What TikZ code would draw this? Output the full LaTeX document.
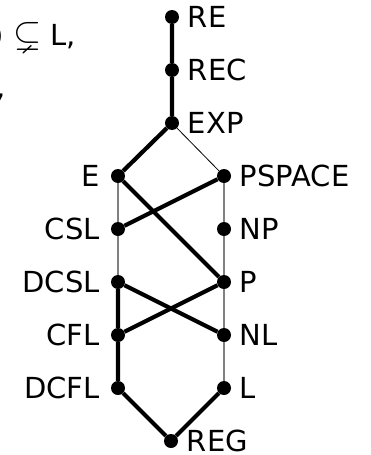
\documentclass[tikz,border=0pt]{standalone}
\usepackage{amssymb}
\usepackage{graphicx}
\usepackage{fontspec}
\setmainfont{DejaVu Sans}
\begin{document}
\begin{tikzpicture}[x = 1pt, y = -1pt,
		dot/.style = {circle, fill, inner sep = 0pt, minimum size = 14pt},
		strong/.style = {line width = 4.2pt},
		weak/.style = {gray, line width = 1.5pt},
		faint/.style = {line width = 0.8pt},
		every label/.style = {font = \fontsize{29}{34}\selectfont, inner sep = 0pt, label distance = 8.5pt},
		leftlab/.style = {label = {[label distance = 11pt]left:#1}}]
		\useasboundingbox (0,0) rectangle (370,455);
		% cut off text at the top left
		\node [anchor = base east, inner sep = 0pt, font = \fontsize{29}{34}\selectfont] (txtone) at (76,45) {)\ \scalebox{1.25}{$\subsetneq$}\ L,};
		\node [anchor = base east, inner sep = 0pt, font = \fontsize{29}{34}\selectfont] (txttwo) at (6,97) {,};
		% classes
		\node [dot, label = right:RE] (re) at (172,17) {};
		\node [dot, label = right:REC] (rec) at (172,70) {};
		\node [dot, label = right:EXP] (exp) at (172,123) {};
		\node [dot, leftlab = E] (e) at (118,176) {};
		\node [dot, label = right:PSPACE] (pspace) at (224,176) {};
		\node [dot, leftlab = CSL] (csl) at (118,229) {};
		\node [dot, label = right:NP] (np) at (224,229) {};
		\node [dot, leftlab = DCSL] (dcsl) at (118,282) {};
		\node [dot, label = right:P] (p) at (224,282) {};
		\node [dot, leftlab = CFL] (cfl) at (118,335) {};
		\node [dot, label = right:NL] (nl) at (224,335) {};
		\node [dot, leftlab = DCFL] (dcfl) at (118,388) {};
		\node [dot, label = right:L] (l) at (224,388) {};
		\node [dot, label = right:REG] (reg) at (171,441) {};
		% inclusions
		\draw [strong] (re) -- (rec) -- (exp) -- (e);
		\draw [faint] (exp) -- (pspace);
		\draw [weak] (e) -- (csl) -- (dcsl);
		\draw [weak] (pspace) -- (np) -- (p) -- (nl) -- (l);
		\draw [strong] (e) -- (p);
		\draw [strong] (pspace) -- (csl);
		\draw [strong] (dcsl) -- (nl);
		\draw [strong] (p) -- (cfl);
		\draw [strong] (dcsl) -- (cfl) -- (dcfl) -- (reg) -- (l);
\end{tikzpicture}
\end{document}
